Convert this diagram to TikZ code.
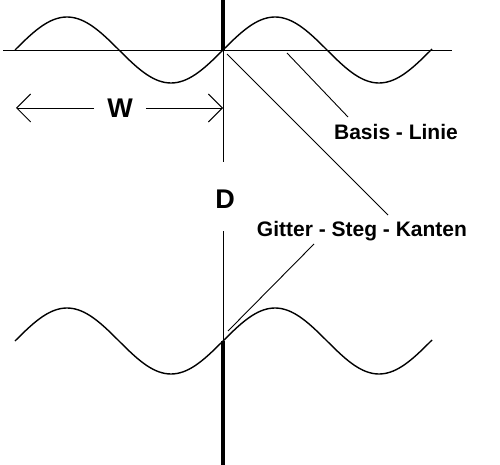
\documentclass[tikz,border=0pt]{standalone}
\usepackage{fontspec}
\setmainfont{Liberation Sans}
\usetikzlibrary{arrows.meta}
\begin{document}
\begin{tikzpicture}[x=1pt,y=-1pt,
  thinline/.style={line width=0.9pt},
  waveline/.style={line width=1.4pt},
  heavy/.style={line width=3.2pt},
  lbl/.style={font=\bfseries\fontsize{21}{24}\selectfont, inner sep=0pt},
  big/.style={font=\bfseries\fontsize{27}{30}\selectfont, inner sep=0pt},
  barb/.style={-{Straight Barb[length=14pt,width=28pt,line width=0.9pt]}}]
\useasboundingbox (0,0) rectangle (500,465);
% key points
\coordinate (top) at (223,0);
\coordinate (o1) at (223,50);
\coordinate (vA) at (223,162);
\coordinate (vB) at (223,231);
\coordinate (o2) at (223,341);
\coordinate (bot) at (223,465);
\coordinate (bl) at (3,50);
\coordinate (br) at (452,50);
% base line
\draw[thinline] (bl) -- (br);
% waves
\draw[waveline] plot[domain=15:432, samples=140, smooth] (\x, {50-33*sin(1.730769*(\x-223))});
\draw[waveline] plot[domain=15:432, samples=140, smooth] (\x, {341-33*sin(1.730769*(\x-223))});
% vertical axis
\draw[heavy] (top) -- (o1);
\draw[thinline] (o1) -- (vA);
\draw[thinline] (vB) -- (o2);
\draw[heavy] (o2) -- (bot);
% labels
\node[big] (D) at (225,199) {D};
\node[big, inner xsep=13pt] (W) at (120,108) {W};
\coordinate (wl) at (16,108);
\coordinate (wr) at (223,108);
\draw[thinline, barb] (W.west) -- (wl);
\draw[thinline, barb] (W.east) -- (wr);
\node[lbl] (basis) at (396,132) {Basis - Linie};
\node[lbl] (gitter) at (362,231) {Gitter - Steg - Kanten};
% leader lines
\coordinate (g1s) at (227,54);
\coordinate (g1e) at (388,215);
\coordinate (b1s) at (287,53);
\coordinate (b1e) at (348,117);
\coordinate (g2s) at (228,331);
\coordinate (g2e) at (314,244);
\draw[thinline] (g1s) -- (g1e);
\draw[thinline] (b1s) -- (b1e);
\draw[thinline] (g2s) -- (g2e);
\end{tikzpicture}
\end{document}
